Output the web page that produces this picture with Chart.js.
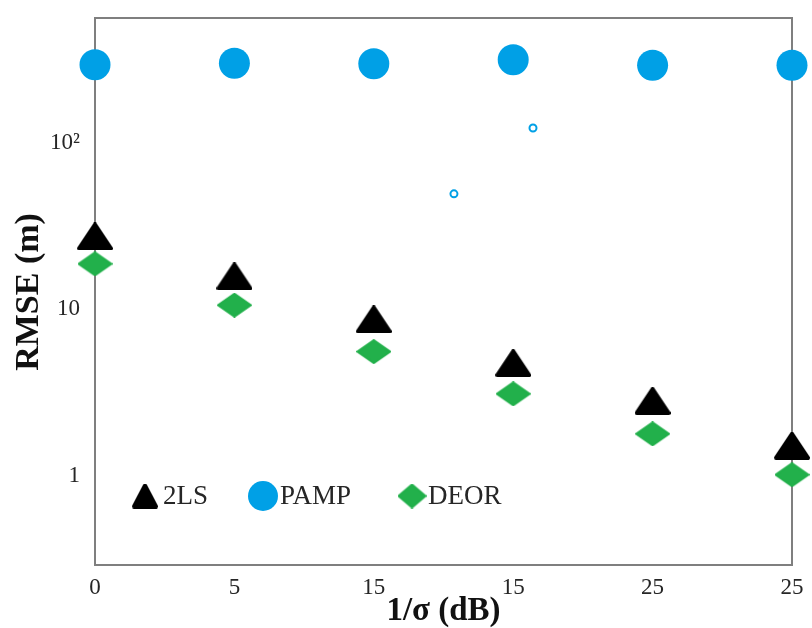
<!DOCTYPE html>
<html><head><meta charset="utf-8">
<script src="https://cdn.jsdelivr.net/npm/chart.js@4.4.1/dist/chart.umd.min.js"></script>
<style>html,body{margin:0;padding:0;background:#fff}#wrap{width:812px;height:628px}</style>
</head><body><div id="wrap"><canvas id="c"></canvas></div>
<script>
// ---- data ----
const xTickLabels = ['0','5','15','15','25','25'];
const xPositions = [0,1,2,3,4,5];
const yTickValues = [1,10,100];
const yTickLabels = ['1','10','10²'];
const seriesNames = ['2LS','PAMP','DEOR'];
const values2LS  = [27.5,15.8,8.7,4.75,2.81,1.51];
const valuesPAMP = [297,303,301,318,295,295];
const valuesDEOR = [18.8,10.6,5.57,3.1,1.78,1.01];
const outlierX = [2.575,3.142];
const outlierPAMP = [49.6,123.5];

// ---- styles ----
const BLUE = '#00a0e6', GREEN = '#22b04b', BLACK = '#000000';
function makeDiamond(w,h,color){
  const c=document.createElement('canvas'); c.width=w; c.height=h;
  const g=c.getContext('2d'); g.fillStyle=color; g.strokeStyle=color; g.lineJoin='round'; g.lineWidth=2;
  g.beginPath(); g.moveTo(w/2,1); g.lineTo(w-1,h/2); g.lineTo(w/2,h-1); g.lineTo(1,h/2); g.closePath(); g.fill(); g.stroke();
  return c;
}
function makeTriangle(w,h,color){
  const c=document.createElement('canvas'); c.width=w; c.height=h;
  const g=c.getContext('2d'); g.fillStyle=color; g.strokeStyle=color; g.lineJoin='round'; g.lineWidth=4;
  g.beginPath(); g.moveTo(w/2,2); g.lineTo(w-2,h-2); g.lineTo(2,h-2); g.closePath(); g.fill(); g.stroke();
  return c;
}
const triImg = makeTriangle(36,28,BLACK);
const diaImg = makeDiamond(35,25,GREEN);
const triLeg = makeTriangle(26,25,BLACK);
const diaLeg = makeDiamond(29,25,GREEN);

const pts = (ys, xs) => ys.map((v,i)=>({x:xs[i], y:v}));

const boxPlugin = {
  id:'box',
  beforeDatasetsDraw(chart){
    const {ctx, chartArea:a} = chart;
    ctx.save(); ctx.strokeStyle='#7f7f7f'; ctx.lineWidth=2;
    ctx.strokeRect(a.left, a.top - 1, a.right-a.left, a.bottom-a.top + 1);
    ctx.restore();
  }
};
const legendPlugin = {
  id:'inlegend',
  afterDatasetsDraw(chart){
    const ctx = chart.ctx;
    const items = [
      {name:seriesNames[0], style:triLeg, r:13, sx:145, tx:163},
      {name:seriesNames[1], style:'circle', r:15, sx:263, tx:280, color:BLUE},
      {name:seriesNames[2], style:diaLeg, r:13, sx:412, tx:428}
    ];
    const y = 496;
    ctx.save();
    items.forEach(it=>{
      ctx.fillStyle = it.color || BLACK; ctx.strokeStyle = it.color || BLACK;
      Chart.helpers.drawPoint(ctx, {pointStyle:it.style, radius:it.r, borderWidth:0, rotation:0}, it.sx, y);
      ctx.fillStyle='#262626'; ctx.font='27px "Liberation Serif"'; ctx.textBaseline='middle'; ctx.textAlign='left';
      ctx.fillText(it.name, it.tx, y+1);
    });
    ctx.restore();
  }
};

new Chart(document.getElementById('c'), {
  type:'scatter',
  data:{ datasets:[
    {label:seriesNames[1], data:pts(valuesPAMP,xPositions), pointStyle:'circle', pointRadius:15.5, backgroundColor:BLUE, borderColor:BLUE, borderWidth:0, clip:false},
    {label:'PAMP (outliers)', data:pts(outlierPAMP,outlierX), pointStyle:'circle', pointRadius:3.5, backgroundColor:'#ffffff', borderColor:BLUE, borderWidth:2, clip:false},
    {label:seriesNames[0], data:pts(values2LS,xPositions), pointStyle:triImg, pointRadius:18, backgroundColor:BLACK, borderColor:BLACK, clip:false},
    {label:seriesNames[2], data:pts(valuesDEOR,xPositions), pointStyle:diaImg, pointRadius:17, backgroundColor:GREEN, borderColor:GREEN, clip:false}
  ]},
  options:{
    responsive:true, maintainAspectRatio:false, animation:false, devicePixelRatio:1,
    layout:{padding:{top:0, right:20, left:0, bottom:0}},
    plugins:{legend:{display:false}, tooltip:{enabled:false}},
    scales:{
      x:{type:'linear', min:0, max:5,
        grid:{display:false, drawTicks:false}, border:{display:false},
        ticks:{stepSize:1, padding:9, color:'#262626', font:{family:'Liberation Serif', size:23},
          callback:(v)=> xTickLabels[Math.round(v)] ?? ''},
        title:{display:true, text:'1/σ (dB)', color:'#111', font:{family:'Liberation Serif', size:33, weight:'bold', lineHeight:1}, padding:{top:0,bottom:0}},
        afterFit:(s)=>{ s.height = 63; s.paddingLeft = 0; s.paddingRight = 0; }
      },
      y:{type:'logarithmic', min:0.289, max:560,
        grid:{display:false, drawTicks:false}, border:{display:false},
        afterBuildTicks:(s)=>{ s.ticks = yTickValues.map(v=>({value:v})); },
        ticks:{padding:15, color:'#262626', font:{family:'Liberation Serif', size:23},
          callback:(v)=>{ const i = yTickValues.indexOf(v); return i>=0 ? yTickLabels[i] : ''; }},
        title:{display:true, text:'RMSE (m)', color:'#111', font:{family:'Liberation Serif', size:34, weight:'bold', lineHeight:1}, padding:{top:12,bottom:0}},
        afterFit:(s)=>{ s.width = 95; s.paddingTop = 0; s.paddingBottom = 0; }
      }
    }
  },
  plugins:[boxPlugin, legendPlugin]
});
</script></body></html>
